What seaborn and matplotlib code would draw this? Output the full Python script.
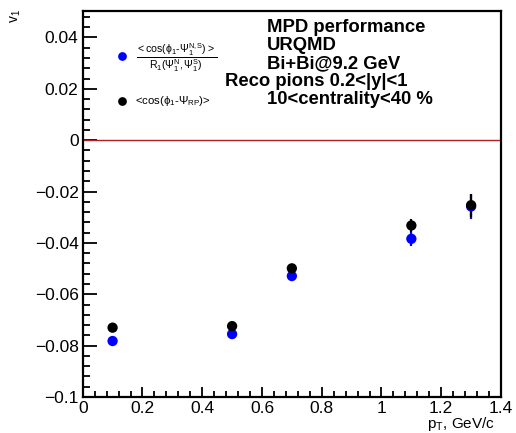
import numpy as np
import pandas as pd
import matplotlib
matplotlib.use("Agg")
import matplotlib.pyplot as plt
from matplotlib.lines import Line2D
from matplotlib.ticker import MultipleLocator, FuncFormatter
import seaborn as sns

# v1 of reconstructed pions vs pT
pt = [0.1, 0.5, 0.7, 1.1, 1.3]
v1_ep = [-0.0782, -0.0755, -0.0529, -0.0384, -0.0258]      # event-plane method
v1_ep_err = [0.0008, 0.0008, 0.0010, 0.0028, 0.0050]
v1_rp = [-0.0730, -0.0724, -0.0499, -0.0332, -0.0253]      # reaction-plane
v1_rp_err = [0.0008, 0.0008, 0.0010, 0.0024, 0.0045]

x_ticks = [0, 0.2, 0.4, 0.6, 0.8, 1.0, 1.2, 1.4]
y_ticks = [-0.1, -0.08, -0.06, -0.04, -0.02, 0, 0.02, 0.04]

info_lines = ["MPD performance", "URQMD", "Bi+Bi@9.2 GeV",
              "Reco pions 0.2<|y|<1", "10<centrality<40 %"]

sns.set_style("ticks")
plt.rcParams["font.family"] = ["Liberation Sans", "DejaVu Sans"]
plt.rcParams["mathtext.fontset"] = "custom"
plt.rcParams["mathtext.rm"] = "Liberation Sans"
plt.rcParams["mathtext.it"] = "Liberation Sans"
plt.rcParams["text.color"] = "black"
plt.rcParams["xtick.color"] = "black"
plt.rcParams["ytick.color"] = "black"

W, H = 516, 433
fig = plt.figure(figsize=(W / 100, H / 100), dpi=100)
ax = fig.add_axes([82.7 / W, 1 - 397 / H, (501 - 82.7) / W, (397 - 10.5) / H])

df = pd.DataFrame({
    "pt": pt * 2,
    "v1": v1_ep + v1_rp,
    "err": v1_ep_err + v1_rp_err,
    "method": ["ep"] * len(pt) + ["rp"] * len(pt),
})
colors = {"ep": "#0000ff", "rp": "#000000"}

ax.axhline(0, color="#b22222", lw=1.0, zorder=1)

for m in ["ep", "rp"]:
    sub = df[df["method"] == m]
    ax.errorbar(sub["pt"], sub["v1"], yerr=sub["err"], fmt="none",
                ecolor=colors[m], elinewidth=1.6, capsize=0, zorder=2)
sns.scatterplot(data=df, x="pt", y="v1", hue="method", palette=colors,
                s=55, edgecolor="none", legend=False, ax=ax, zorder=3)

ax.set_xlim(0, 1.4)
ax.set_ylim(-0.1, 0.0505)
ax.set_xticks(x_ticks)
ax.set_yticks(y_ticks)
ax.xaxis.set_minor_locator(MultipleLocator(0.04))
ax.yaxis.set_minor_locator(MultipleLocator(0.004))
fmt = FuncFormatter(lambda v, p: ("%g" % round(v, 4)).replace("-", "\u2212"))
ax.xaxis.set_major_formatter(fmt)
ax.yaxis.set_major_formatter(fmt)
ax.tick_params(axis="both", which="both", direction="in", top=False, right=False,
               labelsize=12.5, color="black", labelcolor="black", width=1.3)
ax.tick_params(axis="y", which="major", length=10, pad=3)
ax.tick_params(axis="y", which="minor", length=5)
ax.tick_params(axis="x", which="major", length=7.5, pad=3)
ax.tick_params(axis="x", which="minor", length=4)
for s in ax.spines.values():
    s.set_linewidth(1.6)
    s.set_color("black")
ax.set_xlabel("")
ax.set_ylabel("")

# axis titles
fig.text(495 / W, 1 - 424 / H, r"p$_{\mathregular{T}}$, GeV/c", ha="right", va="center", fontsize=11)
fig.text(16 / W, 1 - 16 / H, r"v$_{\mathregular{1}}$", ha="center", va="center",
         fontsize=10, rotation=90)

# info text block
ys = [28, 46, 64, 82, 100]
xs = [266.7, 266.7, 266.7, 225, 266.7]
for t, xx, yy in zip(info_lines, xs, ys):
    fig.text(xx / W, 1 - yy / H, t, ha="left", va="center", fontsize=13.3,
             fontweight="bold")

# legend entries
for yy, c in [(56, "#0000ff"), (100.5, "black")]:
    fig.add_artist(Line2D([121.7 / W], [1 - yy / H], marker="o", markersize=6.3,
                          color=c, markeredgewidth=0, linestyle="none"))
fig.text(176.5 / W, 1 - 57.5 / H,
         r"$\frac{\mathregular{<cos(\phi_1\text{-}\Psi_1^{N,S})>}}{\mathregular{R_1(\Psi_1^N,\Psi_1^S)}}$",
         ha="center", va="center", fontsize=10.8)
fig.text(135 / W, 1 - 100.5 / H, r"<cos($\phi_{1}$-$\Psi_{RP}$)>",
         ha="left", va="center", fontsize=8.2)

fig.savefig("out.png", dpi=100)
